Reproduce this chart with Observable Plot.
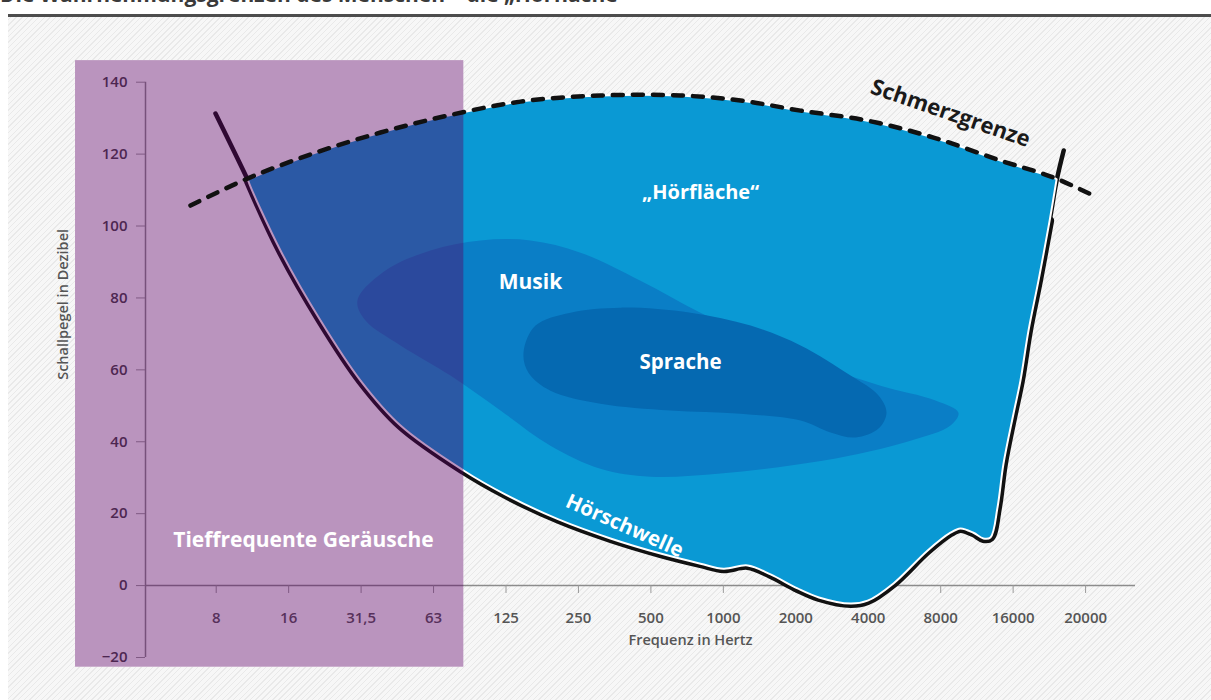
<!DOCTYPE html>
<html><head><meta charset="utf-8">
<script src="https://cdn.jsdelivr.net/npm/d3@7"></script>
<script src="https://cdn.jsdelivr.net/npm/@observablehq/plot@0.6"></script>
<style>
html,body{margin:0;padding:0;background:#fff;}
#page{position:relative;width:1211px;height:700px;overflow:hidden;}
#title{position:absolute;left:0;top:-20px;line-height:28px;font:700 21px "Open Sans",sans-serif;color:#3a3a3a;white-space:nowrap;}
#rule{position:absolute;left:8px;right:0;top:14px;height:3px;background:#4d4d4d;}
#hatch{position:absolute;left:8px;right:0;top:17px;bottom:0;background:repeating-linear-gradient(-45deg,#f7f7f7 0 3px,#e9e9e9 3px 4px);}
#chart{position:absolute;left:0;top:17px;}
</style></head><body>
<div id="page">
<div id="title">Die Wahrnehmungsgrenzen des Menschen – die „Hörfläche“</div>
<div id="rule"></div><div id="hatch"></div><div id="chart"></div>
</div>
<script>
// Frequency bands (x axis, evenly spaced) and level ticks (y axis)
const freqLabels = ["8","16","31,5","63","125","250","500","1000","2000","4000","8000","16000","20000"];
const freqPos = freqLabels.map((d, i) => i);
const dbTicks = [-20, 0, 20, 40, 60, 80, 100, 120, 140];
const xDomain = [-0.976, 12.689];

// Hörschwelle: position on the band index, level in dB
const thresholdPos = [-0.01, 0.446, 0.887, 1.44, 1.992, 2.544, 3.414, 3.994, 4.725, 5.442, 6.133, 6.685, 7.003, 7.334, 7.652, 8.024, 8.32, 8.756, 8.992, 9.348, 9.817, 10.135, 10.273, 10.452, 10.59, 10.687, 10.784, 10.867, 11.005, 11.101, 11.212, 11.35, 11.504, 11.601, 11.698];
const thresholdDb  = [131.3, 112.4, 93.2, 73.7, 57.0, 44.5, 32.0, 25.3, 18.4, 13.1, 8.9, 6.1, 4.7, 5.6, 3.1, -0.8, -3.3, -5.0, -4.2, 0.6, 9.7, 14.7, 15.9, 14.7, 13.1, 13.4, 21.7, 33.9, 47.8, 57.0, 70.9, 84.8, 101.5, 112.7, 121.0];

// Schmerzgrenze
const painPos = [-0.355, 0.432, 1.343, 2.268, 3.193, 4.2, 5.304, 6.409, 7.237, 8.065, 8.99, 9.901, 10.826, 11.557, 12.165];
const painDb  = [105.7, 113.2, 120.2, 126.0, 130.7, 134.6, 136.3, 136.3, 134.9, 132.1, 129.3, 124.6, 118.2, 113.5, 107.9];

// Crossings of the two limits (corners of the Hörfläche)
const cornerLeft = {pos: 0.44, db: 113.0};
const cornerRight = {pos: 11.6, db: 113.0};

// Musik region outline
const musikPos = [1.95, 2.337, 2.958, 3.648, 4.338, 5.028, 5.856, 6.684, 7.512, 8.341, 9.169, 9.928, 10.245, 10.135, 9.583, 8.755, 7.927, 6.961, 5.995, 5.304, 4.614, 3.924, 3.234, 2.544, 2.061];
const musikDb  = [79.3, 87.6, 93.2, 96.0, 96.0, 92.6, 84.8, 75.9, 68.2, 61.2, 55.6, 51.5, 48.1, 44.5, 40.3, 36.2, 33.4, 31.2, 30.3, 32.5, 38.9, 48.7, 58.4, 66.8, 73.7];

// Sprache region outline
const sprachePos = [4.242, 4.407, 4.89, 5.581, 6.547, 7.376, 8.066, 8.756, 9.142, 9.252, 9.142, 8.825, 8.48, 8.066, 7.238, 6.271, 5.304, 4.614, 4.31];
const spracheDb  = [64.8, 72.3, 75.9, 77.3, 75.9, 72.3, 66.8, 58.4, 52.9, 48.1, 43.7, 41.2, 42.6, 45.9, 47.8, 48.7, 50.6, 54.2, 59.2];

// Tieffrequente Geräusche band
const lowBandPos = [-1.942, 3.418];
const lowBandDb = [-22.7, 146.0];

const toPts = (P, D) => P.map((p, i) => ({pos: p, db: D[i]}));
const threshold = toPts(thresholdPos, thresholdDb);
const pain = toPts(painPos, painDb);
const musik = toPts(musikPos, musikDb);
const sprache = toPts(sprachePos, spracheDb);
const thrInner = threshold.filter(d => d.pos > cornerLeft.pos && d.pos < cornerRight.pos);
const hoerflaeche = [
  cornerLeft,
  ...pain.filter(d => d.pos > cornerLeft.pos && d.pos < cornerRight.pos),
  cornerRight, cornerRight,
  ...thrInner.slice().reverse(),
  cornerLeft
];
const band = [{x1: lowBandPos[0], x2: lowBandPos[1], y1: lowBandDb[0], y2: lowBandDb[1]}];

const labels = [
  {pos: 4.338, db: 84.3, t: "Musik", size: 21, rot: 0},
  {pos: 6.409, db: 62.0, t: "Sprache", size: 20.5, rot: 0},
  {pos: 6.685, db: 109.3, t: "„Hörfläche“", size: 20, rot: 0},
  {pos: 5.636, db: 16.6, t: "Hörschwelle", size: 20.5, rot: 24},
  {pos: 1.205, db: 12.5, t: "Tieffrequente Geräusche", size: 21, rot: 0}
];

const chart = Plot.plot({
  width: 1211, height: 683,
  marginTop: 64.7, marginBottom: 43, marginLeft: 145, marginRight: 76,
  x: {domain: xDomain, axis: null},
  y: {domain: [-20, 140], axis: null},
  style: {background: "transparent", fontFamily: '"Open Sans", sans-serif', overflow: "visible"},
  marks: [
    Plot.rect(band, {x1: "x1", x2: "x2", y1: "y1", y2: "y2", fill: "white"}),
    Plot.ruleX([xDomain[0]], {y1: -20, y2: 140, stroke: "#8c8c8c", strokeWidth: 1.5}),
    Plot.axisY(dbTicks, {anchor: "left", tickSize: 9, tickPadding: 9, fontSize: 15, fontWeight: 600, stroke: "#9a9a9a", fill: "#444", label: null}),
    Plot.ruleY([0], {x1: xDomain[0], x2: xDomain[1], stroke: "#8c8c8c", strokeWidth: 1.5}),
    Plot.ruleX(freqPos, {x: d => d, y1: 0, y2: -2.2, stroke: "#9a9a9a"}),
    Plot.text(freqPos, {x: d => d, y: 0, dy: 33, text: d => freqLabels[d], fontSize: 15, fontWeight: 600, fill: "#555"}),
    Plot.line(threshold, {x: "pos", y: "db", curve: "catmull-rom", stroke: "#111", strokeWidth: 4.5}),
    Plot.line(thrInner, {x: "pos", y: "db", curve: "catmull-rom", stroke: "#111", strokeWidth: 9}),
    Plot.line(hoerflaeche, {x: "pos", y: "db", curve: "catmull-rom", fill: "#0a99d4", stroke: "white", strokeWidth: 2}),
    Plot.line(musik, {x: "pos", y: "db", curve: "catmull-rom-closed", fill: "#0a7ec6", stroke: "none"}),
    Plot.line(sprache, {x: "pos", y: "db", curve: "catmull-rom-closed", fill: "#0569b1", stroke: "none"}),
    Plot.rect(band, {x1: "x1", x2: "x2", y1: "y1", y2: "y2", fill: "#5a0064", fillOpacity: 0.42}),
    Plot.line(pain, {x: "pos", y: "db", curve: "catmull-rom", stroke: "#111", strokeWidth: 4.5, strokeDasharray: "10,10", strokeLinecap: "round"}),
    Plot.text(labels, {x: "pos", y: "db", text: "t", fontSize: d => d.size, rotate: "rot", fill: "white", fontWeight: 700}),
    Plot.text(["Schmerzgrenze"], {x: [10.135], y: [131.3], text: d => d, rotate: 19, fontSize: 22, fontWeight: 700, fill: "#1a1a1a"}),
    Plot.text(["Frequenz in Hertz"], {x: [6.547], y: [-15.3], text: d => d, fontSize: 14.5, fontWeight: 600, fill: "#555"}),
    Plot.text(["Schallpegel in Dezibel"], {x: [-2.108], y: [78.2], text: d => d, rotate: -90, fontSize: 14.5, fontWeight: 600, fill: "#555"})
  ]
});
document.getElementById("chart").appendChild(chart);
</script>
</body></html>
